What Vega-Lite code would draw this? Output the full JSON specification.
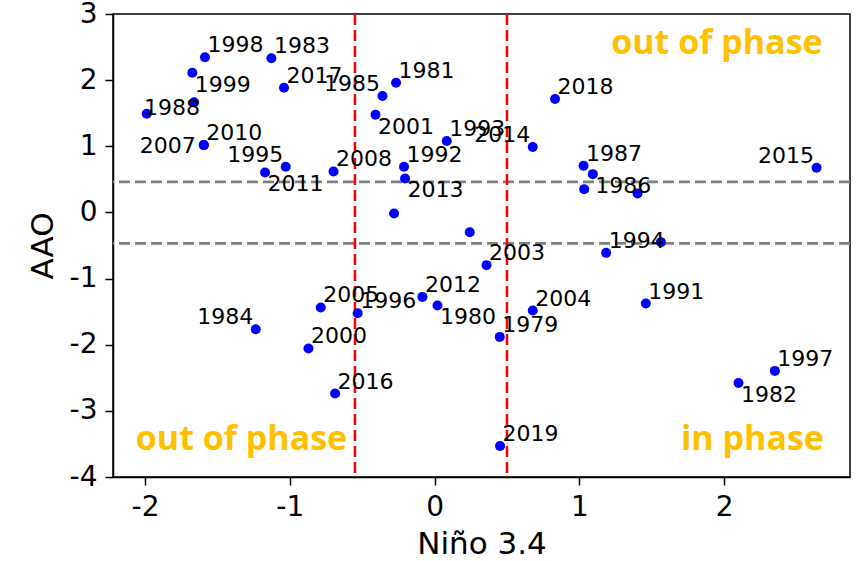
{
  "$schema": "https://vega.github.io/schema/vega-lite/v6.json",
  "width": 737,
  "height": 463,
  "autosize": {"type": "none"},
  "padding": {"left": 113, "top": 14, "right": 8, "bottom": 84},
  "background": "white",
  "config": {
    "view": {"stroke": "black", "strokeWidth": 1.5},
    "axis": {
      "grid": false,
      "domainColor": "black",
      "domainWidth": 1.5,
      "tickColor": "black",
      "tickWidth": 1.5,
      "tickSize": 8,
      "labelFont": "DejaVu Sans",
      "labelFontSize": 28,
      "labelColor": "black",
      "labelPadding": 8,
      "titleFont": "DejaVu Sans",
      "titleFontSize": 31,
      "titleFontWeight": "normal",
      "titleColor": "black",
      "labelExpr": "datum.value < 0 ? '-' + (-datum.value) : '' + datum.value"
    }
  },
  "datasets": {
    "pts": [
      {"nino": -1.586, "aao": 2.345, "year": "1998"},
      {"nino": -1.127, "aao": 2.330, "year": "1983"},
      {"nino": -1.673, "aao": 2.112, "year": "1999"},
      {"nino": -1.661, "aao": 1.664},
      {"nino": -1.040, "aao": 1.885, "year": "2017"},
      {"nino": -0.360, "aao": 1.759, "year": "1985"},
      {"nino": -0.266, "aao": 1.961, "year": "1981"},
      {"nino": -1.988, "aao": 1.492, "year": "1988"},
      {"nino": -0.408, "aao": 1.477, "year": "2001"},
      {"nino": -1.594, "aao": 1.018, "year": "2010"},
      {"nino": -1.594, "aao": 1.018, "year": "2007"},
      {"nino": -1.028, "aao": 0.690, "year": "1995"},
      {"nino": -1.171, "aao": 0.605, "year": "2011"},
      {"nino": -0.698, "aao": 0.620, "year": "2008"},
      {"nino": -0.211, "aao": 0.690, "year": "1992"},
      {"nino": -0.204, "aao": 0.514, "year": "2013"},
      {"nino": -0.280, "aao": -0.015},
      {"nino": 0.243, "aao": -0.300},
      {"nino": 0.084, "aao": 1.079, "year": "1993"},
      {"nino": 0.678, "aao": 0.988, "year": "2014"},
      {"nino": 0.832, "aao": 1.714, "year": "2018"},
      {"nino": 1.029, "aao": 0.705, "year": "1987"},
      {"nino": 1.093, "aao": 0.579, "year": "1986"},
      {"nino": 1.033, "aao": 0.352},
      {"nino": 1.402, "aao": 0.287},
      {"nino": 2.638, "aao": 0.675, "year": "2015"},
      {"nino": 1.563, "aao": -0.449},
      {"nino": 1.185, "aao": -0.611, "year": "1994"},
      {"nino": 0.359, "aao": -0.797, "year": "2003"},
      {"nino": -0.084, "aao": -1.277, "year": "2012"},
      {"nino": 0.020, "aao": -1.407, "year": "1980"},
      {"nino": 0.678, "aao": -1.483, "year": "2004"},
      {"nino": 0.450, "aao": -1.882, "year": "1979"},
      {"nino": 1.459, "aao": -1.377, "year": "1991"},
      {"nino": 2.350, "aao": -2.396, "year": "1997"},
      {"nino": 2.099, "aao": -2.578, "year": "1982"},
      {"nino": 0.452, "aao": -3.531, "year": "2019"},
      {"nino": -0.786, "aao": -1.437, "year": "2005"},
      {"nino": -0.531, "aao": -1.523, "year": "1996"},
      {"nino": -1.235, "aao": -1.765, "year": "1984"},
      {"nino": -0.871, "aao": -2.057, "year": "2000"},
      {"nino": -0.687, "aao": -2.738, "year": "2016"}
    ]
  },
  "data": {"name": "pts"},
  "layer": [
    {
      "data": {"values": [{"v": 0.463}, {"v": -0.469}]},
      "mark": {"type": "rule", "color": "#808080", "strokeDash": [11, 5], "strokeWidth": 2.8},
      "encoding": {
        "y": {"field": "v", "type": "quantitative", "scale": {"domain": [-4, 3], "nice": false, "zero": false}, "axis": {"values": [-4, -3, -2, -1, 0, 1, 2, 3], "titlePadding": 10}, "title": "AAO"}
      }
    },
    {
      "data": {"values": [{"h": -0.55}, {"h": 0.5}]},
      "mark": {"type": "rule", "color": "#ff0000", "strokeDash": [11, 5], "strokeWidth": 2.5},
      "encoding": {
        "x": {"field": "h", "type": "quantitative", "scale": {"domain": [-2.221, 2.869], "nice": false, "zero": false}, "axis": {"values": [-2, -1, 0, 1, 2], "titlePadding": 8}, "title": "Niño 3.4"}
      }
    },
    {
      "mark": {"type": "circle", "color": "#0000ff", "size": 100, "opacity": 1},
      "encoding": {
        "x": {"field": "nino", "type": "quantitative", "title": "Niño 3.4"},
        "y": {"field": "aao", "type": "quantitative", "title": "AAO"}
      }
    },
    {
      "transform": [{"filter": {"field": "year", "oneOf": ["1998", "1983", "2017", "1981", "2010", "2008", "1992", "1993", "2018", "1987", "1994", "2003", "2012", "2004", "1979", "1991", "1997", "2019", "2005", "1996", "2000", "2016"]}}],
      "mark": {"type": "text", "font": "DejaVu Sans", "fontSize": 22, "color": "black", "align": "left", "baseline": "middle", "dx": 2.5, "dy": -12},
      "encoding": {
        "x": {"field": "nino", "type": "quantitative", "title": "Niño 3.4"},
        "y": {"field": "aao", "type": "quantitative", "title": "AAO"},
        "text": {"field": "year"}
      }
    },
    {
      "transform": [{"filter": {"field": "year", "oneOf": ["1999", "2001", "2011", "2013", "1986", "1980", "1982"]}}],
      "mark": {"type": "text", "font": "DejaVu Sans", "fontSize": 22, "color": "black", "align": "left", "baseline": "middle", "dx": 2.5, "dy": 12},
      "encoding": {
        "x": {"field": "nino", "type": "quantitative", "title": "Niño 3.4"},
        "y": {"field": "aao", "type": "quantitative", "title": "AAO"},
        "text": {"field": "year"}
      }
    },
    {
      "transform": [{"filter": {"field": "year", "oneOf": ["1985", "2014", "2015", "1984", "1995"]}}],
      "mark": {"type": "text", "font": "DejaVu Sans", "fontSize": 22, "color": "black", "align": "right", "baseline": "middle", "dx": -2.5, "dy": -12},
      "encoding": {
        "x": {"field": "nino", "type": "quantitative", "title": "Niño 3.4"},
        "y": {"field": "aao", "type": "quantitative", "title": "AAO"},
        "text": {"field": "year"}
      }
    },
    {
      "transform": [{"filter": {"field": "year", "equal": "1988"}}],
      "mark": {"type": "text", "font": "DejaVu Sans", "fontSize": 22, "color": "black", "align": "left", "baseline": "middle", "dx": -2.7, "dy": -5.6},
      "encoding": {
        "x": {"field": "nino", "type": "quantitative", "title": "Niño 3.4"},
        "y": {"field": "aao", "type": "quantitative", "title": "AAO"},
        "text": {"field": "year"}
      }
    },
    {
      "transform": [{"filter": {"field": "year", "equal": "2007"}}],
      "mark": {"type": "text", "font": "DejaVu Sans", "fontSize": 22, "color": "black", "align": "right", "baseline": "middle", "dx": -8, "dy": 0.7},
      "encoding": {
        "x": {"field": "nino", "type": "quantitative", "title": "Niño 3.4"},
        "y": {"field": "aao", "type": "quantitative", "title": "AAO"},
        "text": {"field": "year"}
      }
    },
    {
      "data": {"values": [{}]},
      "mark": {"type": "text", "font": "Open Sans", "fontWeight": "bold", "fontSize": 34, "color": "#ffc000", "align": "right", "baseline": "alphabetic"},
      "encoding": {
        "x": {"datum": 2.68, "type": "quantitative"},
        "y": {"datum": 2.395, "type": "quantitative"},
        "text": {"value": "out of phase"}
      }
    },
    {
      "data": {"values": [{}]},
      "mark": {"type": "text", "font": "Open Sans", "fontWeight": "bold", "fontSize": 34, "color": "#ffc000", "align": "left", "baseline": "alphabetic"},
      "encoding": {
        "x": {"datum": -2.064, "type": "quantitative"},
        "y": {"datum": -3.596, "type": "quantitative"},
        "text": {"value": "out of phase"}
      }
    },
    {
      "data": {"values": [{}]},
      "mark": {"type": "text", "font": "Open Sans", "fontWeight": "bold", "fontSize": 34, "color": "#ffc000", "align": "right", "baseline": "alphabetic"},
      "encoding": {
        "x": {"datum": 2.689, "type": "quantitative"},
        "y": {"datum": -3.596, "type": "quantitative"},
        "text": {"value": "in phase"}
      }
    }
  ]
}
